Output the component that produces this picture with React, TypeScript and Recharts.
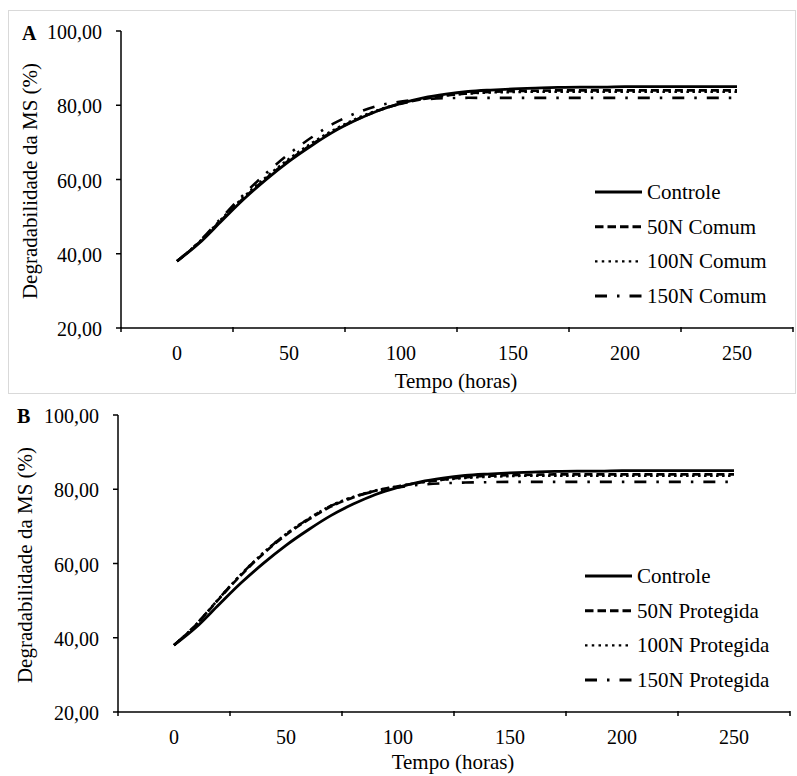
import React from "react";
import { LineChart, Line, XAxis, YAxis, Legend } from "recharts";

// ---- data ----
const tempo = [0, 10, 20, 30, 40, 50, 60, 70, 80, 90, 100, 110, 120, 130, 140, 150, 160, 170, 180, 190, 200, 210, 220, 230, 240, 250];

const controle = [38.0, 42.9, 48.9, 54.8, 60.1, 64.9, 69.1, 72.9, 76.0, 78.6, 80.5, 82.0, 83.0, 83.7, 84.1, 84.4, 84.6, 84.8, 84.9, 84.9, 85.0, 85.0, 85.0, 85.0, 85.0, 85.0];

const comum50 = [38.0, 43.1, 49.2, 55.1, 60.4, 65.2, 69.4, 73.1, 76.1, 78.6, 80.4, 81.7, 82.6, 83.2, 83.6, 83.8, 83.9, 84.0, 84.0, 84.0, 84.0, 84.0, 84.0, 84.0, 84.0, 84.0];
const comum100 = [38.0, 43.3, 49.5, 55.5, 60.8, 65.6, 69.8, 73.4, 76.4, 78.8, 80.5, 81.8, 82.6, 83.1, 83.4, 83.5, 83.6, 83.6, 83.6, 83.6, 83.6, 83.6, 83.6, 83.6, 83.6, 83.6];
const comum150 = [38.0, 43.3, 49.8, 56.1, 61.8, 66.9, 71.3, 75.1, 77.9, 79.9, 81.0, 81.6, 81.9, 82.0, 82.0, 82.0, 82.0, 82.0, 82.0, 82.0, 82.0, 82.0, 82.0, 82.0, 82.0, 82.0];

const protegida50 = [38.0, 43.6, 50.4, 56.9, 62.7, 67.7, 71.8, 75.3, 77.8, 79.6, 80.8, 81.8, 82.6, 83.2, 83.6, 83.8, 83.9, 84.0, 84.0, 84.0, 84.0, 84.0, 84.0, 84.0, 84.0, 84.0];
const protegida100 = [38.0, 43.7, 50.6, 57.2, 63.0, 68.0, 72.1, 75.6, 78.0, 79.7, 80.8, 81.8, 82.5, 83.0, 83.3, 83.5, 83.6, 83.6, 83.6, 83.6, 83.6, 83.6, 83.6, 83.6, 83.6, 83.6];
const protegida150 = [38.0, 43.7, 50.5, 57.1, 62.9, 67.9, 72.0, 75.5, 77.9, 79.5, 80.5, 81.2, 81.6, 81.8, 81.9, 82.0, 82.0, 82.0, 82.0, 82.0, 82.0, 82.0, 82.0, 82.0, 82.0, 82.0];

const namesA = ["Controle", "50N Comum", "100N Comum", "150N Comum"];
const namesB = ["Controle", "50N Protegida", "100N Protegida", "150N Protegida"];

const xTicks = [-25, 0, 25, 50, 75, 100, 125, 150, 175, 200, 225, 250, 275];
const yTicks = [20, 40, 60, 80, 100];

const FONT = "Liberation Serif";

const dataA = tempo.map((t, i) => ({ t, s0: controle[i], s1: comum50[i], s2: comum100[i], s3: comum150[i] }));
const dataB = tempo.map((t, i) => ({ t, s0: controle[i], s1: protegida50[i], s2: protegida100[i], s3: protegida150[i] }));

const styles = [
  { key: "s0", dash: undefined as string | undefined, w: 2.8, legDash: undefined as string | undefined, legLen: 47 },
  { key: "s1", dash: "8 4", w: 2.6, legDash: "8.5 4", legLen: 47 },
  { key: "s2", dash: "2.5 3.5", w: 2.2, legDash: "2.5 4.25", legLen: 44 },
  { key: "s3", dash: "12 10 2.5 10", w: 2.6, legDash: "12 10 2.5 10", legLen: 47 },
];

const fmt = (v: number) => v.toFixed(2).replace(".", ",");

const XTick = (props: any) => {
  const { x, y, payload } = props;
  const v = payload.value as number;
  const isLabel = v >= 0 && v % 50 === 0;
  const ay = y - 1;
  return (
    <g>
      {!isLabel && <line x1={x} x2={x} y1={ay} y2={ay + 5} stroke="#000" strokeWidth={1.5} />}
      {isLabel && (
        <text x={x} y={ay + 32.5} textAnchor="middle" fontSize={20} fill="#000" fontFamily={FONT}>
          {v}
        </text>
      )}
    </g>
  );
};

const YTick = (props: any) => {
  const { x, y, payload } = props;
  return (
    <text x={x} y={y + 1} textAnchor="end" dominantBaseline="central" fontSize={20} fill="#000" fontFamily={FONT}>
      {fmt(payload.value as number)}
    </text>
  );
};

const makeLegend = (names: string[]) => () => (
  <svg width={210} height={140} style={{ display: "block" }}>
    {styles.map((s, i) => {
      const cy = 17 + i * 34.7;
      return (
        <g key={s.key}>
          <line x1={0} x2={s.legLen} y1={cy} y2={cy} stroke="#000" strokeWidth={s.key === "s2" ? 2.2 : 3} strokeDasharray={s.legDash} />
          <text x={52} y={cy} dominantBaseline="central" fontSize={21} fill="#000" fontFamily={FONT}>
            {names[i]}
          </text>
        </g>
      );
    })}
  </svg>
);

type PanelProps = {
  data: any[];
  names: string[];
  top: number;
  height: number;
  margin: { top: number; left: number; right: number; bottom: number };
  legendPos: { left: number; top: number };
};

const Panel = ({ data, names, top, height, margin, legendPos }: PanelProps) => (
  <div style={{ position: "absolute", left: 0, top, width: 797, height }}>
    <LineChart width={797} height={height} data={data} margin={margin} style={{ fontFamily: FONT }}>
      <XAxis
        dataKey="t"
        type="number"
        domain={[-25, 275]}
        ticks={xTicks}
        interval={0}
        height={1}
        tickSize={0}
        tickMargin={0}
        tickLine={false}
        tick={<XTick />}
        axisLine={{ stroke: "#000", strokeWidth: 1.5 }}
      />
      <YAxis
        type="number"
        domain={[20, 100]}
        ticks={yTicks}
        interval={0}
        width={1}
        tickSize={5}
        tickMargin={14}
        tick={<YTick />}
        tickLine={{ stroke: "#000", strokeWidth: 1.5 }}
        axisLine={{ stroke: "#000", strokeWidth: 1.5 }}
      />
      <Legend
        layout="vertical"
        align="center"
        verticalAlign="middle"
        content={makeLegend(names)}
        wrapperStyle={{ left: legendPos.left, top: legendPos.top, width: 210, height: 140 }}
      />
      {styles.map((s, i) => (
        <Line
          key={s.key}
          dataKey={s.key}
          name={names[i]}
          type="monotone"
          stroke="#000"
          strokeWidth={s.w}
          strokeDasharray={s.dash}
          dot={false}
          activeDot={false}
          isAnimationActive={false}
        />
      ))}
    </LineChart>
  </div>
);

export default function App() {
  return (
    <div style={{ position: "absolute", left: 0, top: 0, width: 797, height: 776, background: "#fff", fontFamily: FONT }}>
      <div
        style={{
          position: "absolute",
          left: 8,
          top: 10,
          width: 786,
          height: 382,
          border: "1.5px solid #d9d9d9",
        }}
      />
      <Panel
        data={dataA}
        names={namesA}
        top={0}
        height={400}
        margin={{ top: 31, left: 120, right: 4, bottom: 71 }}
        legendPos={{ left: 595, top: 175 }}
      />
      <Panel
        data={dataB}
        names={namesB}
        top={400}
        height={376}
        margin={{ top: 15, left: 117, right: 7, bottom: 63 }}
        legendPos={{ left: 585, top: 159 }}
      />
      <svg width={797} height={776} style={{ position: "absolute", left: 0, top: 0, pointerEvents: "none" }}>
        <text x={22} y={33} dominantBaseline="central" fontSize={20} fontWeight="bold" fill="#000" fontFamily={FONT}>A</text>
        <text x={17} y={416} dominantBaseline="central" fontSize={20} fontWeight="bold" fill="#000" fontFamily={FONT}>B</text>
        <text x={30} y={181} transform="rotate(-90, 30, 181)" textAnchor="middle" dominantBaseline="central" fontSize={21} fill="#000" fontFamily={FONT}>
          Degradabilidade da MS (%)
        </text>
        <text x={25} y={565} transform="rotate(-90, 25, 565)" textAnchor="middle" dominantBaseline="central" fontSize={21} fill="#000" fontFamily={FONT}>
          Degradabilidade da MS (%)
        </text>
        <text x={456} y={381} textAnchor="middle" dominantBaseline="central" fontSize={21} fill="#000" fontFamily={FONT}>
          Tempo (horas)
        </text>
        <text x={453} y={762} textAnchor="middle" dominantBaseline="central" fontSize={21} fill="#000" fontFamily={FONT}>
          Tempo (horas)
        </text>
      </svg>
    </div>
  );
}
